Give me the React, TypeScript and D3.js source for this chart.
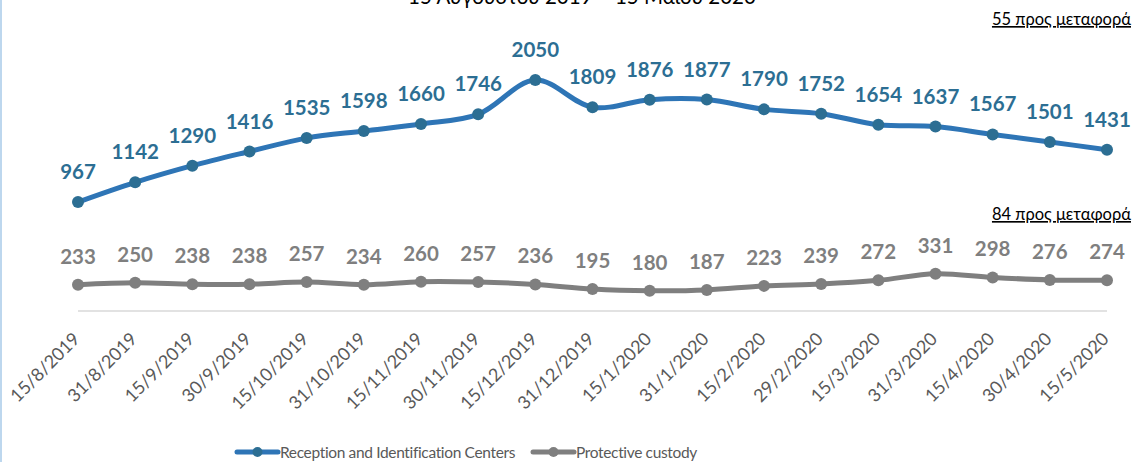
import React, { useEffect, useRef } from "react";
import * as d3 from "d3";

// dates on the category axis
const dates = [
  "15/8/2019", "31/8/2019", "15/9/2019", "30/9/2019", "15/10/2019", "31/10/2019",
  "15/11/2019", "30/11/2019", "15/12/2019", "31/12/2019", "15/1/2020", "31/1/2020",
  "15/2/2020", "29/2/2020", "15/3/2020", "31/3/2020", "15/4/2020", "30/4/2020", "15/5/2020",
];
const ricValues = [967, 1142, 1290, 1416, 1535, 1598, 1660, 1746, 2050, 1809, 1876, 1877, 1790, 1752, 1654, 1637, 1567, 1501, 1431];
const custodyValues = [233, 250, 238, 238, 257, 234, 260, 257, 236, 195, 180, 187, 223, 239, 272, 331, 298, 276, 274];
const seriesNames = ["Reception and Identification Centers", "Protective custody"];
const title = "15 Αυγούστου 2019 – 15 Μαΐου 2020";
const notes = ["55 προς μεταφορά", "84 προς μεταφορά"];

const W = 1132;
const H = 462;
const FONT = "Lato, 'Open Sans', sans-serif";

export default function App() {
  const ref = useRef<SVGSVGElement>(null);

  useEffect(() => {
    const svg = d3.select(ref.current);
    svg.selectAll("*").remove();

    const x = d3.scalePoint<string>().domain(dates).range([78, 1107]);
    const y = d3.scaleLinear().domain([0, 2500]).range([311, 29.4]);

    // chart border on the left
    svg.append("rect").attr("x", 0).attr("y", 0).attr("width", 2).attr("height", H).attr("fill", "#bdd7ee");

    // title, cut at the top like the source
    svg.append("text")
      .attr("x", 582).attr("y", 4)
      .attr("text-anchor", "middle")
      .attr("font-size", 20.5)
      .attr("fill", "#000")
      .text(title);

    // category axis line
    svg.append("line")
      .attr("x1", x(dates[0])!).attr("x2", x(dates[dates.length - 1])!)
      .attr("y1", y(0)).attr("y2", y(0))
      .attr("stroke", "#d9d9d9").attr("stroke-width", 1.5);

    svg.append("g").selectAll("text")
      .data(dates)
      .join("text")
      .attr("transform", d => `translate(${x(d)! + 3},${y(0) + 29}) rotate(-45)`)
      .attr("text-anchor", "end")
      .attr("font-size", 18)
      .attr("fill", "#595959")
      .text(d => d);

    const series = [
      { values: ricValues, line: "#2e75b6", mark: "#2c6e93", label: "#2c6e93", off: 23 },
      { values: custodyValues, line: "#7f7f7f", mark: "#7f7f7f", label: "#7f7f7f", off: 21 },
    ];

    const line = d3.line<number>()
      .x((_, i) => x(dates[i])!)
      .y(d => y(d))
      .curve(d3.curveCatmullRom.alpha(0.5));

    series.forEach(s => {
      svg.append("path")
        .datum(s.values)
        .attr("d", line)
        .attr("fill", "none")
        .attr("stroke", s.line)
        .attr("stroke-width", 5)
        .attr("stroke-linecap", "round");

      svg.append("g").selectAll("circle")
        .data(s.values)
        .join("circle")
        .attr("cx", (_, i) => x(dates[i])!)
        .attr("cy", d => y(d))
        .attr("r", 6)
        .attr("fill", s.mark);

      svg.append("g").selectAll("text")
        .data(s.values)
        .join("text")
        .attr("x", (_, i) => x(dates[i])!)
        .attr("y", d => y(d) - s.off)
        .attr("text-anchor", "middle")
        .attr("font-size", 20.5)
        .attr("font-weight", "bold")
        .attr("fill", s.label)
        .text(d => d);
    });

    // notes on the right
    [25, 220].forEach((yy, i) => {
      svg.append("text")
        .attr("x", 1131).attr("y", yy)
        .attr("text-anchor", "end")
        .attr("font-size", 16.5)
        .attr("fill", "#000")
        .attr("text-decoration", "underline")
        .text(notes[i]);
    });

    // legend
    const legend = [
      { x0: 237, color: "#2e75b6", mark: "#2c6e93" },
      { x0: 533, color: "#7f7f7f", mark: "#7f7f7f" },
    ];
    legend.forEach((l, i) => {
      const g = svg.append("g");
      g.append("line")
        .attr("x1", l.x0).attr("x2", l.x0 + 41)
        .attr("y1", 452).attr("y2", 452)
        .attr("stroke", l.color).attr("stroke-width", 5).attr("stroke-linecap", "round");
      g.append("circle").attr("cx", l.x0 + 20.5).attr("cy", 452).attr("r", 5).attr("fill", l.mark);
      g.append("text")
        .attr("x", l.x0 + 43).attr("y", 458)
        .attr("font-size", 15.5)
        .attr("letter-spacing", -0.35)
        .attr("fill", "#595959")
        .text(seriesNames[i]);
    });
  }, []);

  return (
    <svg
      ref={ref}
      width={W}
      height={H}
      style={{ position: "absolute", left: 0, top: 0, fontFamily: FONT, background: "#fff" }}
    />
  );
}
